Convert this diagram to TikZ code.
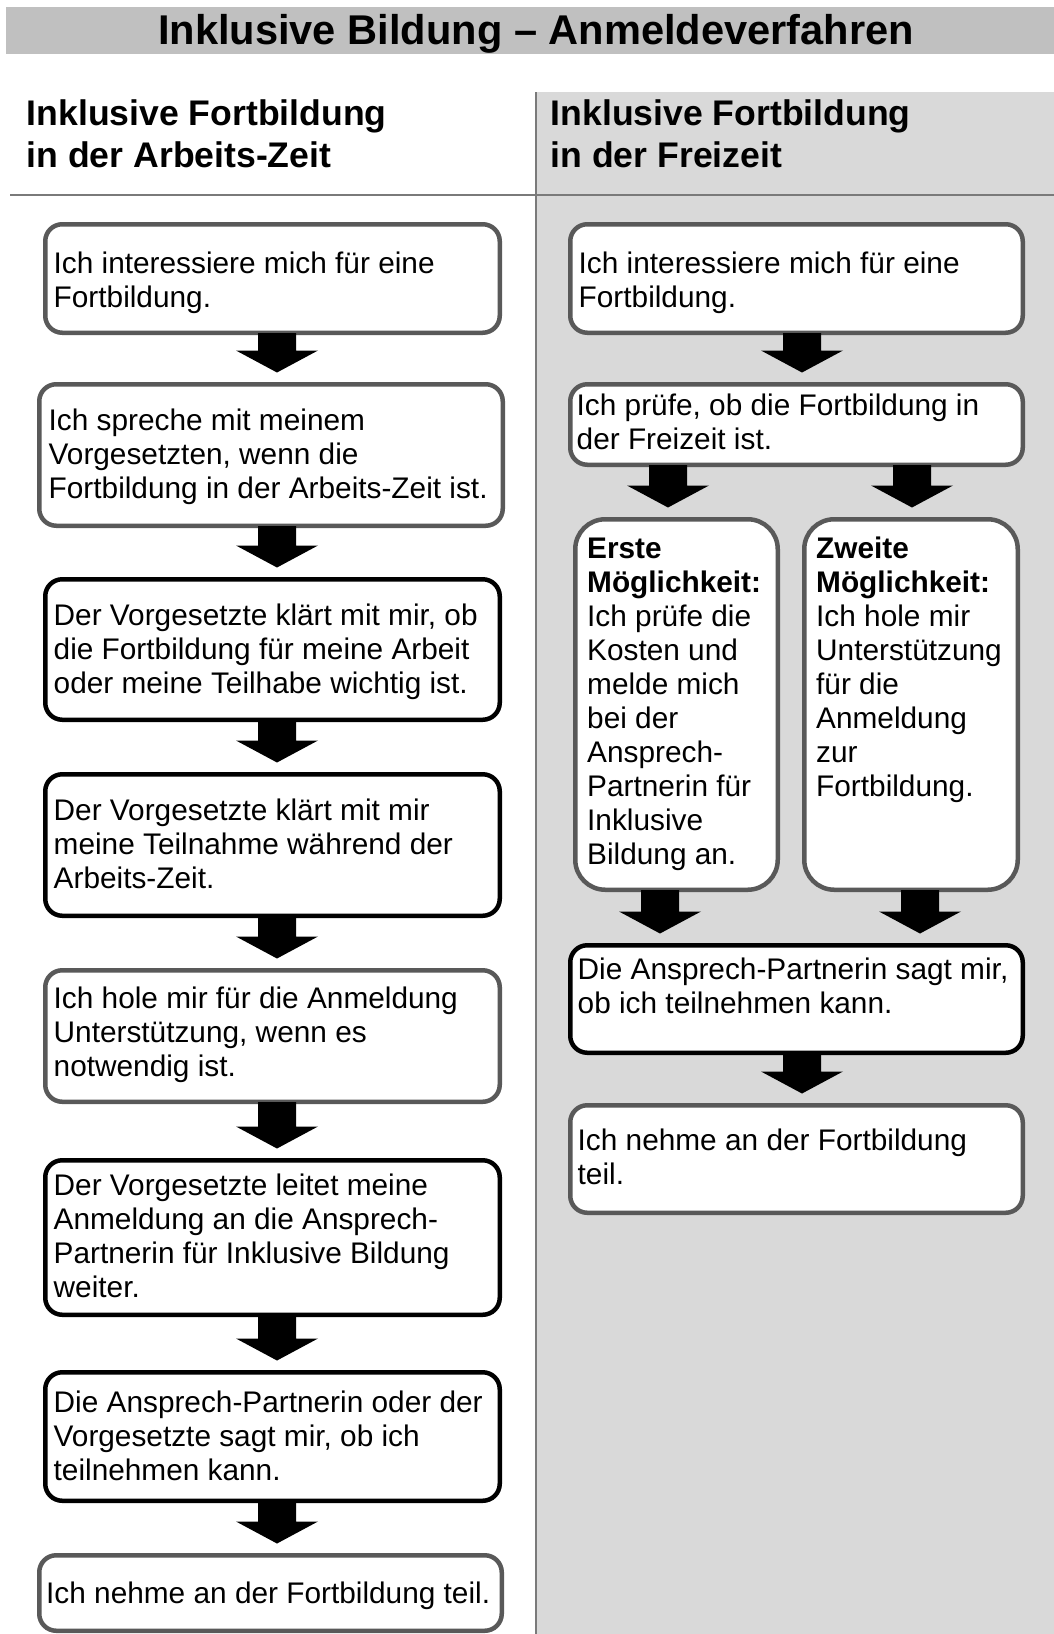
\documentclass[tikz,border=0pt]{standalone}
\usepackage{fontspec}
\setmainfont{Liberation Sans}
\usetikzlibrary{calc}
\definecolor{barGray}{HTML}{C0C0C0}
\definecolor{panelGray}{HTML}{D9D9D9}
\definecolor{boxGray}{HTML}{595959}
\definecolor{ruleGray}{HTML}{7A7A7A}
\newcommand\flowarrow[3]{%
  \fill let \p1=(#2.south -| #1), \p2=(#3.north -| #1) in
   (\x1-19pt,\y1+2pt) -- (\x1+19pt,\y1+2pt) -- (\x1+19pt,\y2+31.5pt) -- (\x1+41pt,\y2+31.5pt)
   -- (\x1,\y2+9.5pt) -- (\x1-41pt,\y2+31.5pt) -- (\x1-19pt,\y2+31.5pt) -- cycle;}
\newcommand\boxlines[1]{\begin{tabular}[t]{@{}l@{}}#1\end{tabular}}
\begin{document}
\begin{tikzpicture}[x=1pt,y=-1pt,
  gbox/.style={draw=boxGray, line width=4.5pt, rounded corners=17pt, fill=white, inner sep=0pt},
  kbox/.style={gbox, draw=black},
  tallbox/.style={gbox, rounded corners=30pt},
  txt/.style={anchor=base west, inner sep=0pt, font=\fontsize{29.8}{34}\selectfont},
  headtxt/.style={anchor=base west, inner sep=0pt, font=\fontsize{35.6}{42}\selectfont\bfseries},
  titletxt/.style={anchor=base, inner sep=0pt, font=\fontsize{41.6}{48}\selectfont\bfseries}]
\useasboundingbox (0,0) rectangle (1054,1634);
% background
\fill[white] (0,0) rectangle (1054,1634);
\fill[barGray] (6,7) rectangle (1054,54);
\fill[panelGray] (536,92) rectangle (1054,1634);
\draw[ruleGray, line width=2pt] (536,92) -- (536,1634);
\draw[ruleGray, line width=2.5pt] (10,195) -- (1054,195);
% title and headers
\node[titletxt] (title) at (536,44.5) {Inklusive Bildung – Anmeldeverfahren};
\node[headtxt] (headL) at (26.5,125) {\boxlines{Inklusive Fortbildung\\in der Arbeits-Zeit}};
\node[headtxt] (headR) at (550.5,125) {\boxlines{Inklusive Fortbildung\\in der Freizeit}};
% arrow x positions
\coordinate (xL) at (277,0);
\coordinate (xR) at (802,0);
\coordinate (xRa) at (668,0);
\coordinate (xRb) at (912,0);
\coordinate (xRc) at (660,0);
\coordinate (xRd) at (920,0);
% boxes (left column)
\path
 node[gbox, minimum width=454.5pt, minimum height=108.5pt] (L1) at (272.5,278.5) {}
 node[gbox, minimum width=463.5pt, minimum height=141.5pt] (L2) at (271,455) {}
 node[kbox, minimum width=454.5pt, minimum height=140.5pt] (L3) at (272.5,649.5) {}
 node[kbox, minimum width=454.5pt, minimum height=141.5pt] (L4) at (272.5,845) {}
 node[gbox, minimum width=454.5pt, minimum height=131.5pt] (L5) at (272.5,1036) {}
 node[kbox, minimum width=454.5pt, minimum height=154.5pt] (L6) at (272.5,1237.5) {}
 node[kbox, minimum width=454.5pt, minimum height=128.5pt] (L7) at (272.5,1436.5) {}
 node[gbox, minimum width=462.5pt, minimum height=75.5pt] (L8) at (270.5,1593) {};
% boxes (right column)
\path
 node[gbox, minimum width=452.5pt, minimum height=108.5pt] (R1) at (796.5,278.5) {}
 node[gbox, minimum width=452.5pt, minimum height=80.5pt] (R2) at (796.5,424.5) {}
 node[tallbox, minimum width=202.5pt, minimum height=370.5pt] (R3a) at (676.5,704.5) {}
 node[tallbox, minimum width=213.5pt, minimum height=370.5pt] (R3b) at (911,704.5) {}
 node[kbox, minimum width=452.5pt, minimum height=107.5pt] (R4) at (796.5,999) {}
 node[gbox, minimum width=452.5pt, minimum height=107.5pt] (R5) at (796.5,1159) {};
% arrows
\flowarrow{xL}{L1}{L2}
\flowarrow{xL}{L2}{L3}
\flowarrow{xL}{L3}{L4}
\flowarrow{xL}{L4}{L5}
\flowarrow{xL}{L5}{L6}
\flowarrow{xL}{L6}{L7}
\flowarrow{xL}{L7}{L8}
\flowarrow{xR}{R1}{R2}
\flowarrow{xRa}{R2}{R3a}
\flowarrow{xRb}{R2}{R3b}
\flowarrow{xRc}{R3a}{R4}
\flowarrow{xRd}{R3b}{R4}
\flowarrow{xR}{R4}{R5}
% texts (left)
\node[txt] (tL1) at (53.5,273) {\boxlines{Ich interessiere mich für eine\\Fortbildung.}};
\node[txt] (tL2) at (48.5,430) {\boxlines{Ich spreche mit meinem\\Vorgesetzten, wenn die\\Fortbildung in der Arbeits-Zeit ist.}};
\node[txt] (tL3) at (53.5,625) {\boxlines{Der Vorgesetzte klärt mit mir, ob\\die Fortbildung für meine Arbeit\\oder meine Teilhabe wichtig ist.}};
\node[txt] (tL4) at (53.5,820) {\boxlines{Der Vorgesetzte klärt mit mir\\meine Teilnahme während der\\Arbeits-Zeit.}};
\node[txt] (tL5) at (53.5,1008) {\boxlines{Ich hole mir für die Anmeldung\\Unterstützung, wenn es\\notwendig ist.}};
\node[txt] (tL6) at (53.5,1195) {\boxlines{Der Vorgesetzte leitet meine\\Anmeldung an die Ansprech-\\Partnerin für Inklusive Bildung\\weiter.}};
\node[txt] (tL7) at (53.5,1412) {\boxlines{Die Ansprech-Partnerin oder der\\Vorgesetzte sagt mir, ob ich\\teilnehmen kann.}};
\node[txt] (tL8) at (46,1603) {Ich nehme an der Fortbildung teil.};
% texts (right)
\node[txt] (tR1) at (578.5,273) {\boxlines{Ich interessiere mich für eine\\Fortbildung.}};
\node[txt] (tR2) at (576.5,415) {\boxlines{Ich prüfe, ob die Fortbildung in\\der Freizeit ist.}};
\node[txt] (tR3a) at (587,558) {\boxlines{\textbf{Erste}\\\textbf{Möglichkeit:}\\Ich prüfe die\\Kosten und\\melde mich\\bei der\\Ansprech-\\Partnerin für\\Inklusive\\Bildung an.}};
\node[txt] (tR3b) at (816,558) {\boxlines{\textbf{Zweite}\\\textbf{Möglichkeit:}\\Ich hole mir\\Unterstützung\\für die\\Anmeldung\\zur\\Fortbildung.}};
\node[txt] (tR4) at (577.5,979) {\boxlines{Die Ansprech-Partnerin sagt mir,\\ob ich teilnehmen kann.}};
\node[txt] (tR5) at (577.5,1150) {\boxlines{Ich nehme an der Fortbildung\\teil.}};
\end{tikzpicture}
\end{document}
